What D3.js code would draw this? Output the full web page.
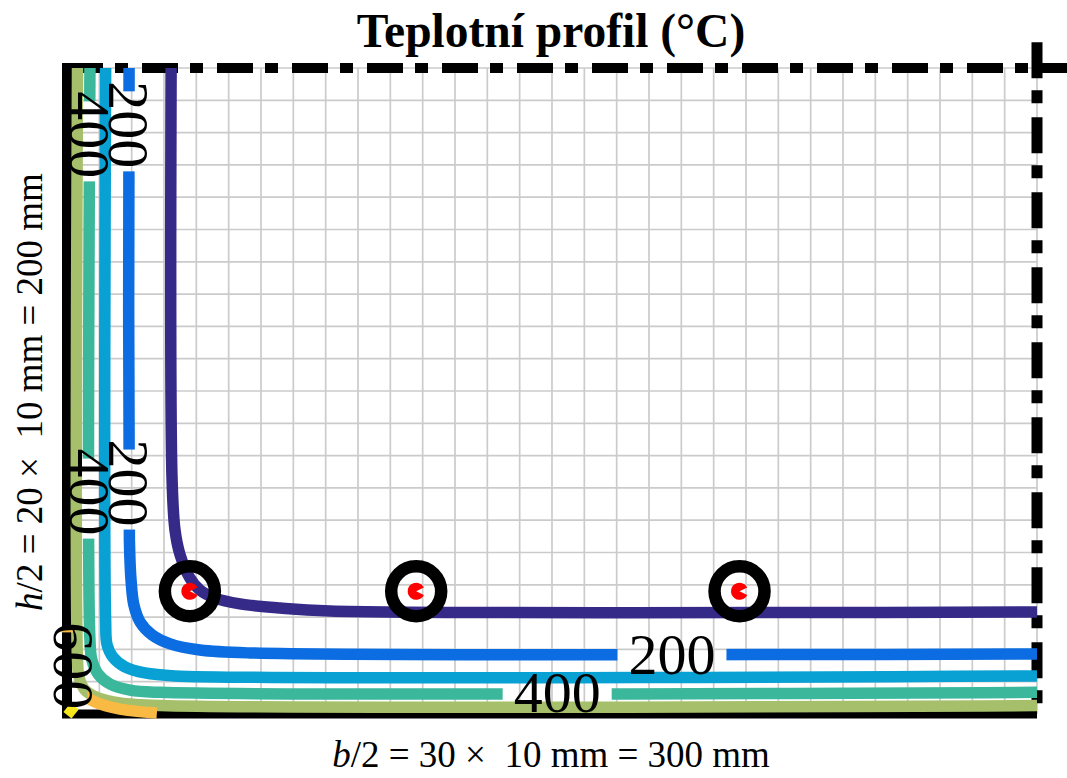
<!DOCTYPE html>
<html>
<head>
<meta charset="utf-8">
<script src="https://cdn.jsdelivr.net/npm/d3@7"></script>
<style>
  html, body { margin: 0; padding: 0; background: #fff; }
  svg { display: block; }
  text { font-family: "Liberation Serif", "Times New Roman", serif; }
</style>
</head>
<body>
<svg id="chart" width="1067" height="778"></svg>
<script>
// Quarter cross-section: b/2 = 300 mm wide, h/2 = 200 mm high, 10 mm mesh.
const sectionWidth = 300;
const sectionHeight = 200;
const meshStep = 10;

// Isotherm levels (°C) and their colours
const levels = [100, 200, 300, 400, 500, 600, 700];
const levelColors = ["#352a87", "#0b6de1", "#09a0d3", "#3bb89b", "#a5bf6a", "#f9ba44", "#f6e71c"];

// Isotherm traces, [x mm, y mm] measured from the exposed corner
const iso100 = [[32.2, 200], [32.5, 72.4], [33.4, 57], [35, 49.2], [38, 42.1], [41.1, 38.4], [45.8, 35.9], [53.5, 34.1], [65.9, 32.8], [81.3, 31.9], [300, 31.6]];
const iso200 = [[19.2, 200], [19.3, 53.9], [19.8, 41.5], [20.7, 33.7], [22.6, 28.5], [26.3, 24.5], [31.9, 21.7], [41.1, 19.8], [56.6, 18.9], [300, 18.6]];
const iso300 = [[11.95, 200], [11.95, 29.1], [12.4, 21.4], [14.2, 17.6], [17.9, 14.6], [24.1, 12.7], [33.4, 11.8], [300, 11.8]];
const iso400 = [[7.1, 200], [7.1, 22.9], [7.7, 16.7], [9.6, 12.4], [13.3, 9.3], [19.5, 7.4], [28.8, 6.7], [300, 6.7]];
const iso500 = [[3.25, 200], [3.25, 16.7], [3.7, 11.5], [5.6, 7.4], [9.6, 5.0], [16.4, 3.4], [28.8, 2.6], [300, 2.6]];
const iso600 = [[0.15, 26.6], [0.5, 16.7], [1.5, 10.5], [4.0, 6.8], [8.7, 3.7], [16.4, 1.5], [27.8, 0.3]];
const iso700 = [[0, 2.0], [2.5, 0]];
const isotherms = [iso100, iso200, iso300, iso400, iso500, iso600, iso700];

// Inline isotherm labels: level, anchor (mm), rotation (deg)
const labelLevel = [200, 400, 200, 400, 200, 400, 600];
const labelX = [187.1, 151.6, 19.2, 7.1, 19.2, 7.1, 2.0];
const labelY = [18.6, 6.7, 182.4, 179.3, 71.5, 68.7, 14.9];
const labelAngle = [0, 0, 90, 90, 90, 90, 90];

// Reinforcing bars (centres, mm)
const rebarX = [38, 108, 208];
const rebarY = [38, 38, 38];

const titleText = "Teplotní profil (°C)";

// ---------------------------------------------------------------
const svg = d3.select("#chart");
const x = d3.scaleLinear().domain([0, sectionWidth]).range([67, 1037]);
const y = d3.scaleLinear().domain([0, sectionHeight]).range([714, 68]);

const defs = svg.append("defs");

// mesh
const grid = svg.append("g").attr("stroke", "#cbcbcb").attr("stroke-width", 1.7);
grid.selectAll("line.v").data(d3.range(0, sectionWidth + 1, meshStep)).join("line")
  .attr("class", "v")
  .attr("x1", d => x(d)).attr("x2", d => x(d))
  .attr("y1", y(0)).attr("y2", y(sectionHeight));
grid.selectAll("line.h").data(d3.range(0, sectionHeight + 1, meshStep)).join("line")
  .attr("class", "h")
  .attr("y1", d => y(d)).attr("y2", d => y(d))
  .attr("x1", x(0)).attr("x2", x(sectionWidth));

// boundaries: exposed faces solid, symmetry axes dash-dot
const edges = svg.append("g").attr("stroke", "#000").attr("fill", "none");
edges.append("line")
  .attr("x1", x(0)).attr("x2", x(0)).attr("y1", y(0) + 4).attr("y2", y(sectionHeight) - 5)
  .attr("stroke-width", 10);
edges.append("line")
  .attr("x1", x(0) - 5).attr("x2", x(sectionWidth)).attr("y1", y(0)).attr("y2", y(0))
  .attr("stroke-width", 9);
edges.append("line")
  .attr("x1", x(0)).attr("x2", x(sectionWidth + 12)).attr("y1", y(sectionHeight)).attr("y2", y(sectionHeight))
  .attr("stroke-width", 10).attr("stroke-dasharray", "36,12,13,14");
edges.append("line")
  .attr("x1", x(sectionWidth)).attr("x2", x(sectionWidth)).attr("y1", y(sectionHeight + 8)).attr("y2", y(0))
  .attr("stroke-width", 11).attr("stroke-dasharray", "36,12,13,14");

// isotherms
const lineGen = d3.line()
  .x(d => x(d[0])).y(d => y(d[1]))
  .curve(d3.curveCatmullRom.alpha(0.5));

const isoGroup = svg.append("g").attr("fill", "none");
isoGroup.selectAll("path").data(isotherms).join("path")
  .attr("d", lineGen)
  .attr("stroke", (d, i) => levelColors[i])
  .attr("stroke-width", 11.5)
  .attr("stroke-linejoin", "round")
  .attr("mask", (d, i) => `url(#gap-${i})`);

// inline labels
const labelGroup = svg.append("g");
const labels = labelGroup.selectAll("text").data(labelLevel).join("text")
  .attr("transform", (d, i) => `translate(${x(labelX[i])},${y(labelY[i])}) rotate(${labelAngle[i]})`)
  .attr("text-anchor", "middle")
  .attr("dy", "0.34em")
  .attr("font-size", 58)
  .attr("fill", "#000")
  .text(d => d);

// cut the isotherm under each of its labels (vertical labels leave a slightly shorter gap)
levels.forEach((lev, i) => {
  const m = defs.append("mask").attr("id", `gap-${i}`)
    .attr("maskUnits", "userSpaceOnUse")
    .attr("x", 0).attr("y", 0).attr("width", 1067).attr("height", 778);
  m.append("rect").attr("width", 1067).attr("height", 778).attr("fill", "#fff");
  labels.each(function (d, k) {
    if (d !== lev) return;
    const len = this.getComputedTextLength();
    const upright = labelAngle[k] === 0;
    const x0 = upright ? -len / 2 - 11 : -len / 2 + 10;
    const x1 = upright ? len / 2 + 11 : len / 2 + 3;
    m.append("rect")
      .attr("transform", `translate(${x(labelX[k])},${y(labelY[k])}) rotate(${labelAngle[k]})`)
      .attr("x", x0).attr("y", -14).attr("width", x1 - x0).attr("height", 28)
      .attr("fill", "#000");
  });
});

// reinforcing bars
const bars = svg.append("g");
bars.selectAll("circle").data(rebarX).join("circle")
  .attr("cx", d => x(d)).attr("cy", (d, i) => y(rebarY[i]))
  .attr("r", 25).attr("fill", "none").attr("stroke", "#000").attr("stroke-width", 12.5);
const dot = d3.arc().innerRadius(0).outerRadius(8.5)
  .startAngle(Math.PI / 2 + 0.45).endAngle(Math.PI / 2 + 2 * Math.PI - 0.45);
bars.selectAll("path").data(rebarX).join("path")
  .attr("transform", (d, i) => `translate(${x(d)},${y(rebarY[i])})`)
  .attr("d", dot())
  .attr("fill", "#ff0000");

// title and axis captions
svg.append("text")
  .attr("x", 551).attr("y", 47)
  .attr("text-anchor", "middle")
  .attr("font-size", 47.5).attr("font-weight", "bold")
  .text(titleText);

const xCap = svg.append("text")
  .attr("x", 551).attr("y", 767)
  .attr("text-anchor", "middle")
  .attr("font-size", 37)
  .style("white-space", "pre");
xCap.append("tspan").attr("font-style", "italic").text("b");
xCap.append("tspan").text(`/2 = ${sectionWidth / meshStep} ×  ${meshStep} mm = ${sectionWidth} mm`);

const yCap = svg.append("text")
  .attr("transform", "translate(42,392) rotate(-90)")
  .attr("text-anchor", "middle")
  .attr("font-size", 37)
  .style("white-space", "pre");
yCap.append("tspan").attr("font-style", "italic").text("h");
yCap.append("tspan").text(`/2 = ${sectionHeight / meshStep} ×  ${meshStep} mm = ${sectionHeight} mm`);
</script>
</body>
</html>
